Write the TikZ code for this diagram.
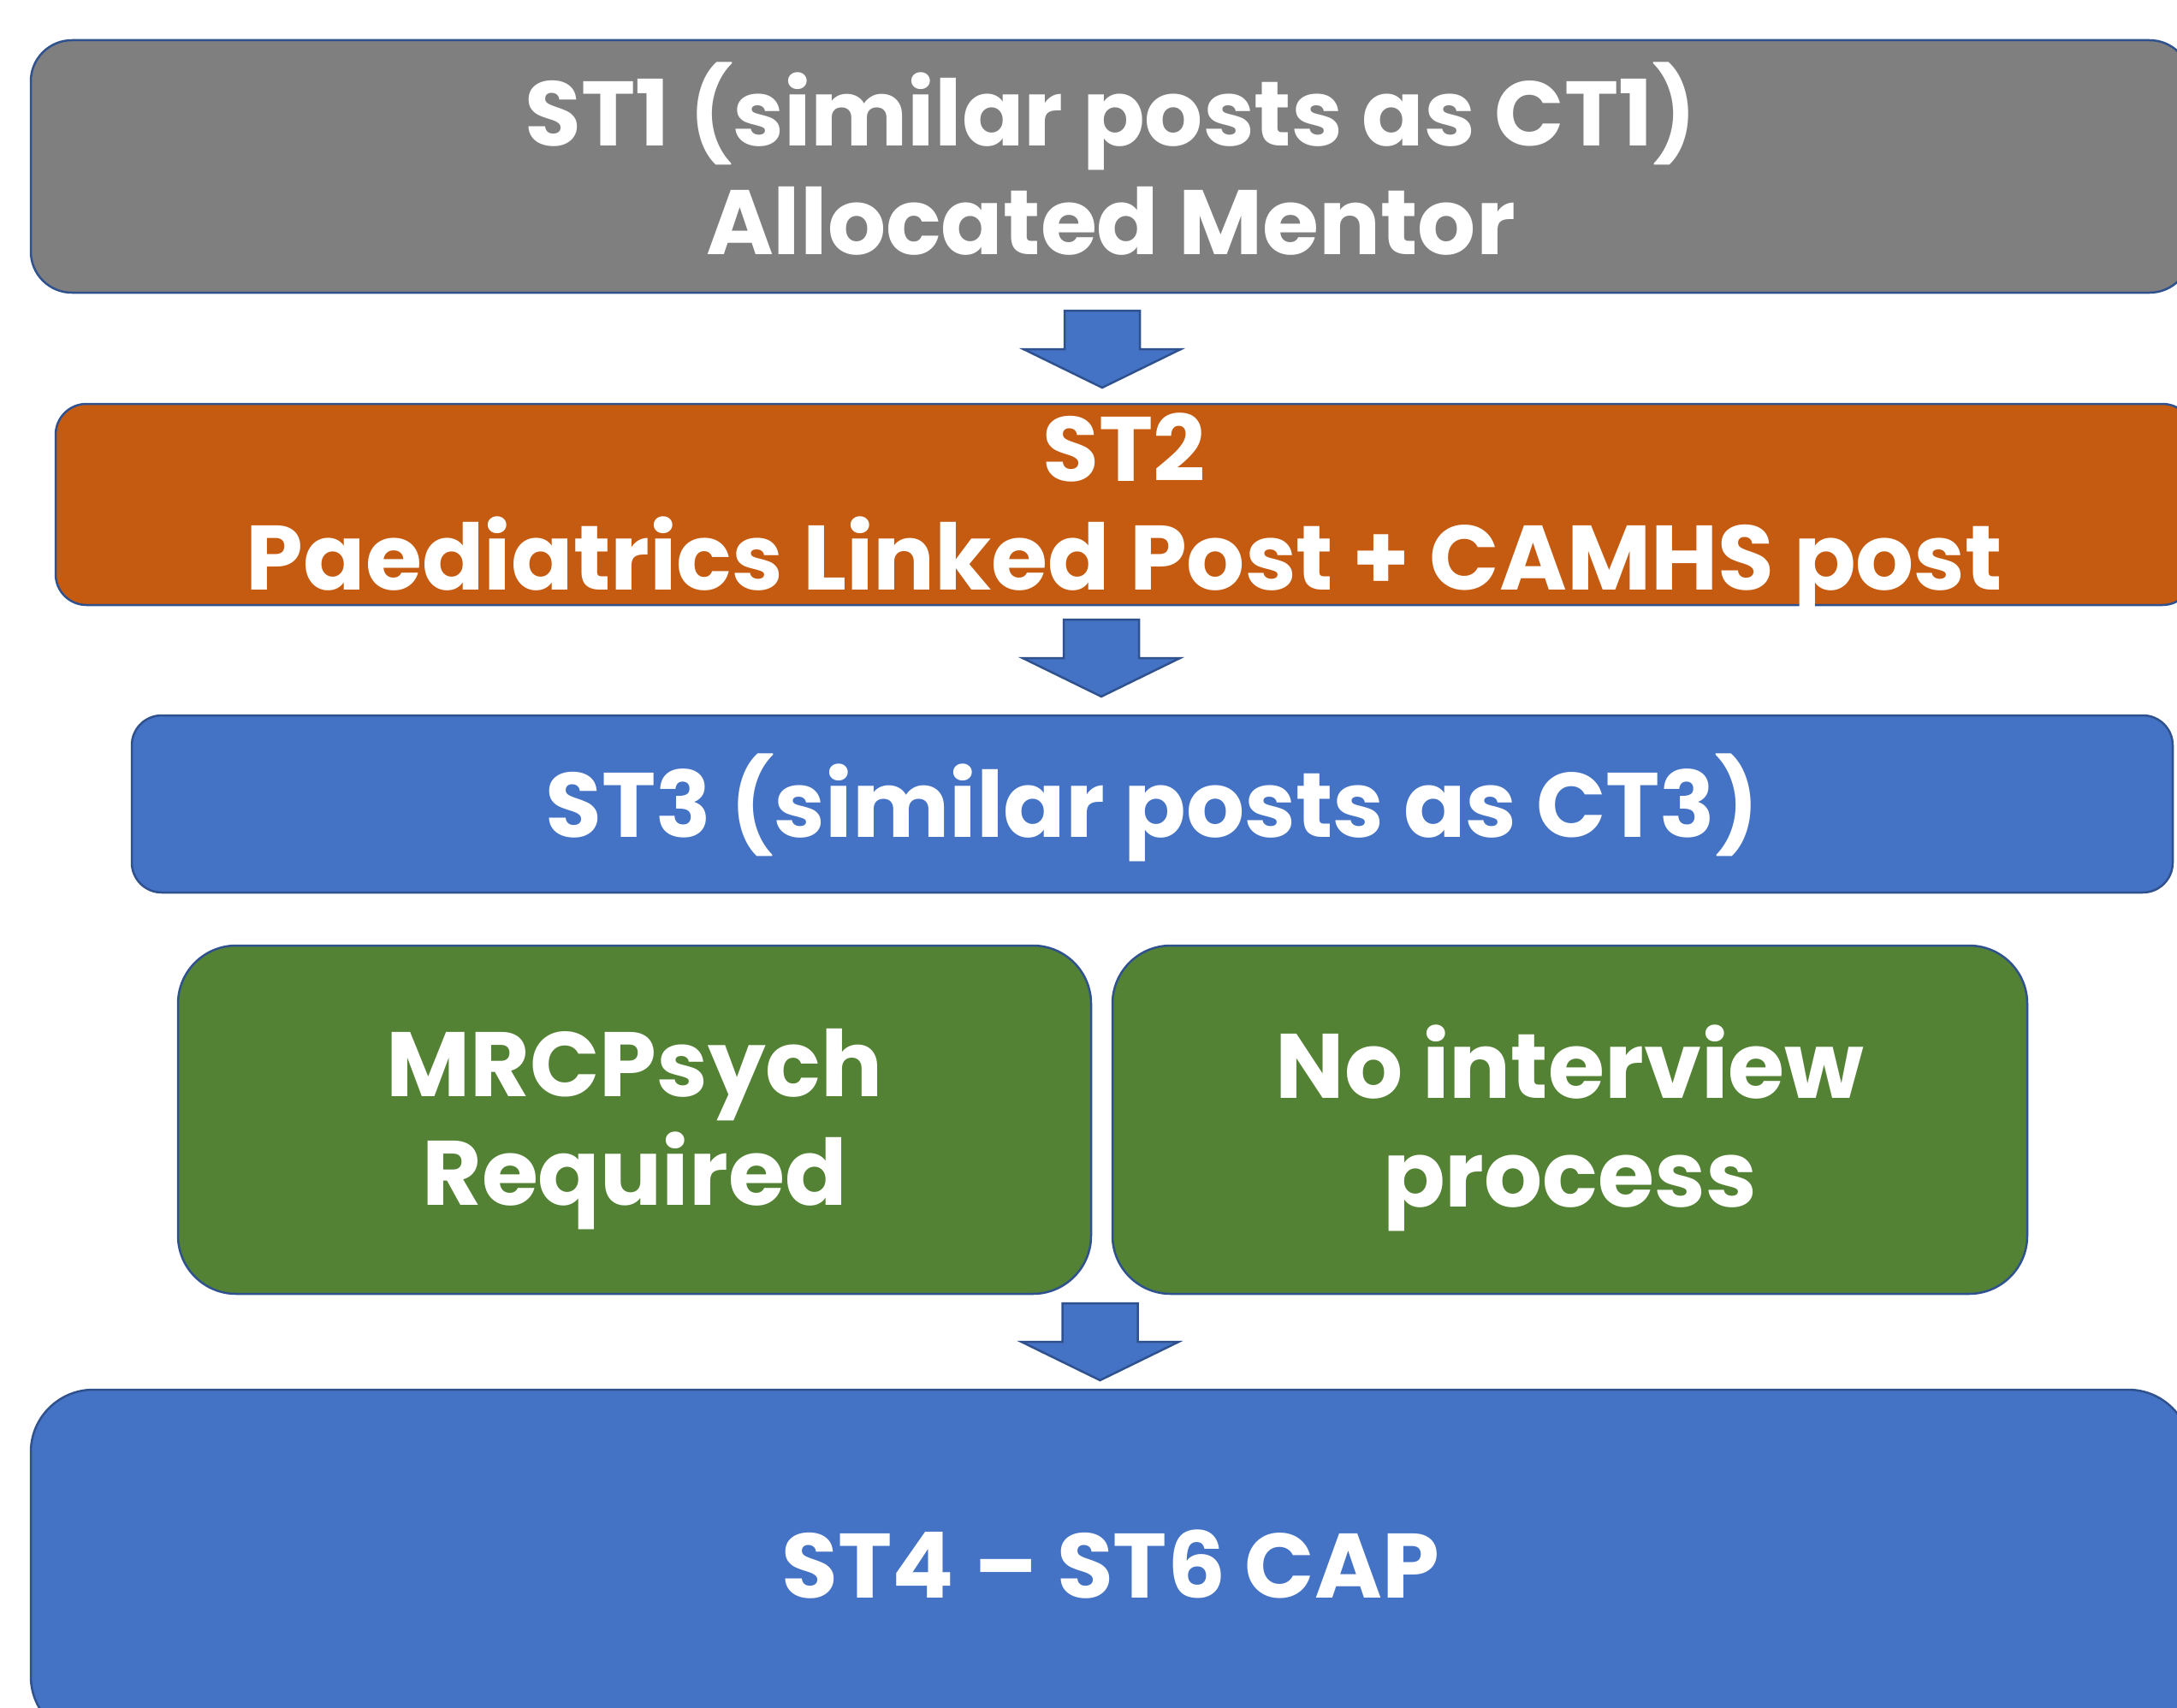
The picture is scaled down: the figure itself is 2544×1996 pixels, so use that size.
\documentclass[tikz,border=0pt]{standalone}
\usepackage{fontspec}
\setmainfont{Poppins}
\definecolor{edgeblue}{HTML}{2F528F}
\definecolor{greyfill}{HTML}{7F7F7F}
\definecolor{orangefill}{HTML}{C55A11}
\definecolor{bluefill}{HTML}{4472C4}
\definecolor{greenfill}{HTML}{548235}
\newcommand\bigfont{\fontsize{107}{127}\selectfont\bfseries}
\begin{document}
\begin{tikzpicture}[x=1pt,y=-1pt,
  box/.style={draw=edgeblue, line width=2.5pt, inner sep=0pt},
  lbl/.style={text=white, align=center, font=\bigfont, inner sep=0pt},
  arrowshape/.style={draw=edgeblue, line width=2.5pt, fill=bluefill, line join=miter},
  downarrow/.pic={\path[arrowshape] (-44,0) -- (44,0) -- (44,45) -- (92,45) -- (0,90) -- (-92,45) -- (-44,45) -- cycle;}
]
\clip (0,0) rectangle (2544,1996);
\fill[white] (0,0) rectangle (2544,1996);

\node[box, fill=greyfill, rounded corners=48pt, minimum width=2524pt, minimum height=295pt] (st1) at (1298,194.5) {};
\node[box, fill=orangefill, rounded corners=36pt, minimum width=2498pt, minimum height=235pt] (st2) at (1314,589.5) {};
\node[box, fill=bluefill, rounded corners=35pt, minimum width=2385pt, minimum height=207pt] (st3) at (1346.5,939.5) {};
\node[box, fill=greenfill, rounded corners=68pt, minimum width=1067pt, minimum height=407pt] (mrc) at (741.5,1308.5) {};
\node[box, fill=greenfill, rounded corners=68pt, minimum width=1069pt, minimum height=407pt] (noint) at (1834.5,1308.5) {};
\node[box, fill=bluefill, rounded corners=73pt, minimum width=2524pt, minimum height=408pt] (st4) at (1298,1828) {};

\node[lbl, yshift=9pt] (st1t) at (st1.center) {ST1 (similar posts as CT1)\\Allocated Mentor};
\node[lbl, yshift=-11pt] (st2t) at (st2.center) {ST2\\Paediatrics Linked Post + CAMHS post};
\node[lbl, yshift=-4pt] (st3t) at (st3.center) {ST3 (similar posts as CT3)};
\node[lbl, yshift=-11pt] (mrct) at (mrc.center) {MRCPsych\\Required};
\node[lbl, yshift=-10pt] (nointt) at (noint.center) {No interview\\process};
\node[lbl] (st4t) at (st4.center) {ST4 – ST6 CAP};

\coordinate (a1) at (1288,363);
\coordinate (a2) at (1287,724);
\coordinate (a3) at (1285.5,1523);
\pic at (a1) {downarrow};
\pic at (a2) {downarrow};
\pic at (a3) {downarrow};
\end{tikzpicture}
\end{document}
